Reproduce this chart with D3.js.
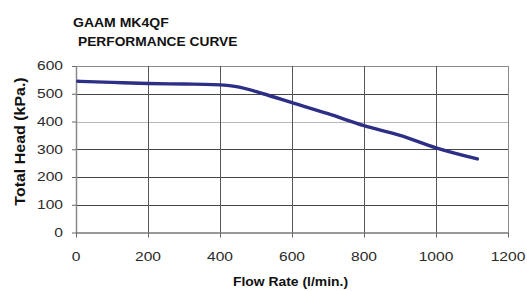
<!DOCTYPE html>
<html>
<head>
<meta charset="utf-8">
<script src="https://cdn.jsdelivr.net/npm/d3@7"></script>
<style>
  body { margin: 0; background: #fff; }
  svg { display: block; }
  text { font-family: "Liberation Sans", Arial, sans-serif; }
</style>
</head>
<body>
<svg id="chart" width="527" height="291" viewBox="0 0 527 291"></svg>
<script>
// data
const flowRate = [5, 100, 200, 300, 380, 450, 520, 600, 700, 800, 900, 1000, 1115];
const totalHead = [545, 541, 537, 535, 533, 525, 500, 468, 428, 385, 350, 305, 265];
const xTicks = [0, 200, 400, 600, 800, 1000, 1200];
const yTicks = [0, 100, 200, 300, 400, 500, 600];

const titleLines = ['GAAM MK4QF', 'PERFORMANCE CURVE'];
const xTitle = 'Flow Rate (l/min.)';
const yTitle = 'Total Head (kPa.)';

// dimensions
const margins = { left: 76, top: 66, right: 19, bottom: 58.5 };
const width = 527, height = 291;
const innerWidth = width - margins.left - margins.right;
const innerHeight = height - margins.top - margins.bottom;

const svg = d3.select('#chart');

// widen glyphs the way the stretched reference image does
function widen(sel, factor) {
  sel.each(function() {
    const w = this.getComputedTextLength();
    d3.select(this)
      .attr('textLength', (w * factor).toFixed(1))
      .attr('lengthAdjust', 'spacingAndGlyphs');
  });
}

// scales
const x = d3.scaleLinear().domain([0, 1200]).range([0, innerWidth]);
const y = d3.scaleLinear().domain([0, 600]).range([innerHeight, 0]);

const plot = svg.append('g')
  .attr('transform', `translate(${margins.left}, ${margins.top})`);

// grid
plot.append('g').selectAll('line')
  .data(yTicks.filter(d => d > 0))
  .join('line')
  .attr('x1', 0).attr('x2', innerWidth)
  .attr('y1', d => Math.round(y(d)) + 0.5).attr('y2', d => Math.round(y(d)) + 0.5)
  .style('stroke', d => d === 400 ? '#b8b8b8' : (d === 600 ? '#8a8a8a' : '#444'))
  .style('stroke-width', 1);

plot.append('g').selectAll('line')
  .data(xTicks.filter(d => d > 0))
  .join('line')
  .attr('x1', d => Math.round(x(d)) + 0.5).attr('x2', d => Math.round(x(d)) + 0.5)
  .attr('y1', 0).attr('y2', innerHeight)
  .style('stroke', d => d === 1200 ? '#8a8a8a' : '#555')
  .style('stroke-width', 1);

// axes (lines and ticks only, labels drawn below)
const yAxis = d3.axisLeft(y)
  .tickValues(yTicks)
  .tickFormat('')
  .tickSizeInner(4)
  .tickSizeOuter(0);

const yAxisContainer = plot.append('g').call(yAxis);
yAxisContainer.select('.domain').style('stroke', '#888').style('stroke-width', 1.5);
yAxisContainer.selectAll('.tick line').style('stroke', '#666');
yAxisContainer.selectAll('.tick text').remove();

const xAxis = d3.axisBottom(x)
  .tickValues(xTicks)
  .tickFormat('')
  .tickSizeInner(5)
  .tickSizeOuter(0);

const xAxisContainer = plot.append('g')
  .attr('transform', `translate(0, ${innerHeight})`)
  .call(xAxis);
xAxisContainer.select('.domain').style('stroke', '#777').style('stroke-width', 1.5);
xAxisContainer.selectAll('.tick line').style('stroke', '#666');
xAxisContainer.selectAll('.tick text').remove();

// tick labels
svg.append('g').selectAll('text')
  .data(yTicks)
  .join('text')
  .attr('x', margins.left - 13)
  .attr('y', d => margins.top + y(d))
  .attr('dy', '0.36em')
  .style('text-anchor', 'end')
  .style('font-size', '12px')
  .style('fill', '#2a2a2a')
  .text(d => d)
  .call(widen, 1.3);

svg.append('g').selectAll('text')
  .data(xTicks)
  .join('text')
  .attr('x', d => margins.left + x(d))
  .attr('y', margins.top + innerHeight + 28)
  .style('text-anchor', 'middle')
  .style('font-size', '12px')
  .style('fill', '#2a2a2a')
  .text(d => d)
  .call(widen, 1.3);

// curve
const points = flowRate.map((f, i) => ({ x: f, y: totalHead[i] }));
const line = d3.line()
  .x(d => x(d.x))
  .y(d => y(d.y))
  .curve(d3.curveMonotoneX);

plot.append('path')
  .datum(points)
  .attr('d', line)
  .style('fill', 'none')
  .style('stroke', '#2c2f85')
  .style('stroke-width', 3.4)
  .style('stroke-linecap', 'round')
  .style('stroke-linejoin', 'round');

// labels
function label(px, py, text, size, anchor, factor, rotate) {
  return svg.append('text')
    .attr('x', px).attr('y', py)
    .attr('transform', rotate ? `rotate(${rotate}, ${px}, ${py})` : null)
    .style('font-size', size + 'px')
    .style('font-weight', 'bold')
    .style('fill', '#111')
    .style('text-anchor', anchor)
    .text(text)
    .call(widen, factor);
}

label(73, 26.5, titleLines[0], 12.5, 'start', 1.12);
label(78, 46, titleLines[1], 12.5, 'start', 1.1);
label(290.5, 286, xTitle, 12, 'middle', 1.16);
label(25, 141.5, yTitle, 14, 'middle', 1.14, -90);
</script>
</body>
</html>
